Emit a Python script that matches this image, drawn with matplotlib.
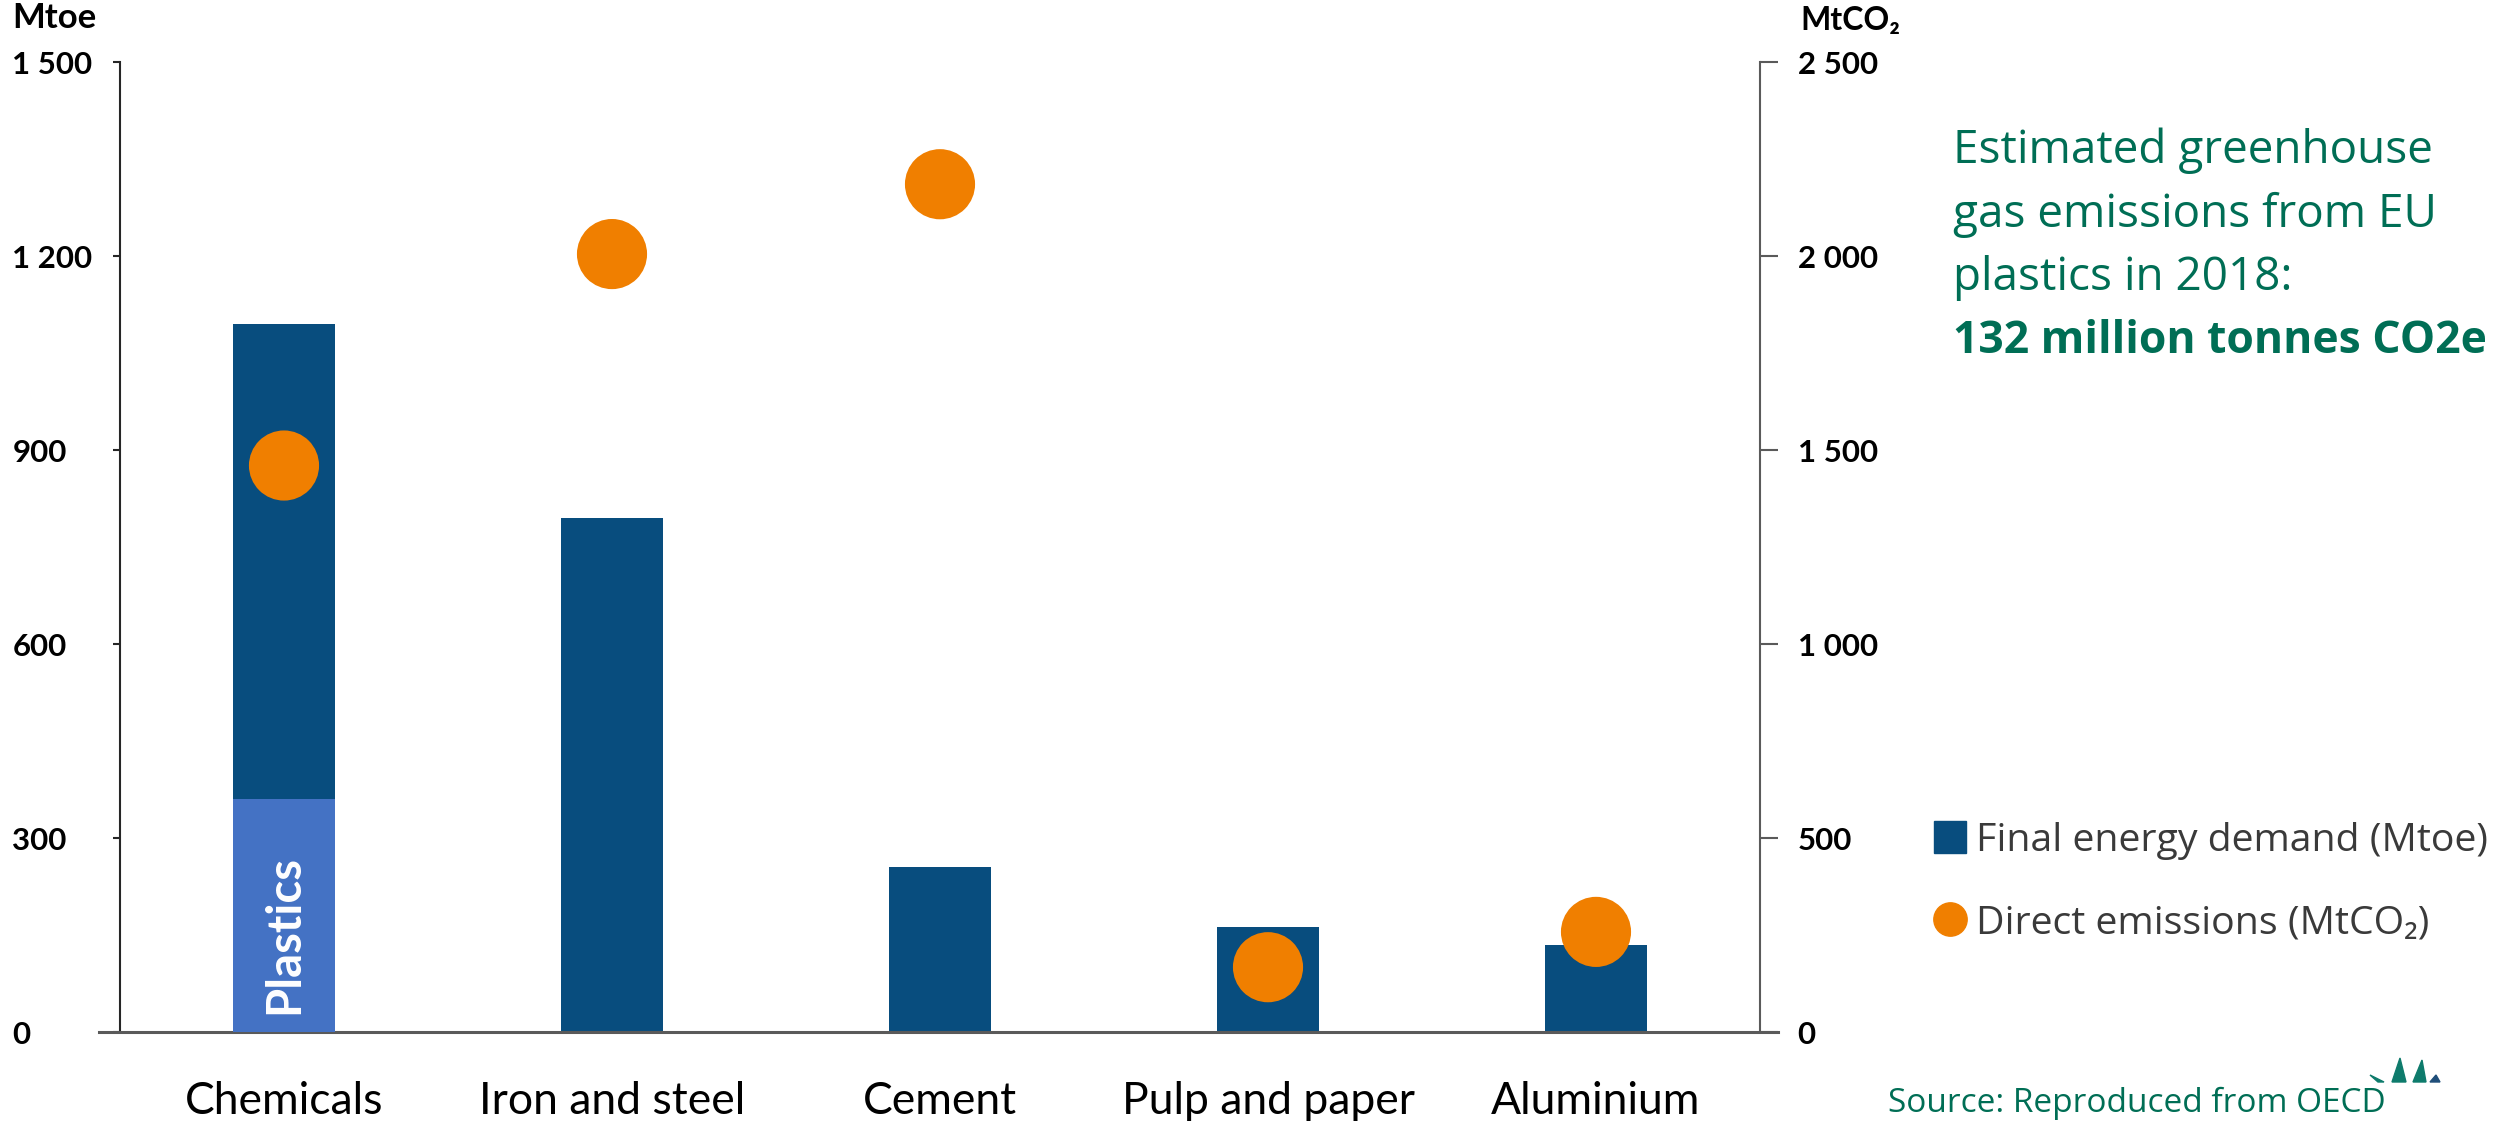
import matplotlib
matplotlib.use("Agg")
import matplotlib.pyplot as plt
from matplotlib.lines import Line2D
from matplotlib.patches import Polygon

# ---------------- data ----------------
categories = ["Chemicals", "Iron and steel", "Cement", "Pulp and paper", "Aluminium"]
energy_mtoe = [1095, 795, 255, 162, 135]          # Final energy demand (Mtoe)
plastics_mtoe = 360                               # Plastics share of chemicals
emissions_mtco2 = [1460, 2005, 2185, 167, 258]     # Direct emissions (MtCO2)
left_ticks = [0, 300, 600, 900, 1200, 1500]
left_ticklabels = ["0", "300", "600", "900", "1 200", "1 500"]
right_ticks = [0, 500, 1000, 1500, 2000, 2500]
right_ticklabels = ["0", "500", "1 000", "1 500", "2 000", "2 500"]

# ---------------- style ----------------
W, H = 2494, 1121
DARK = "#084D7E"
LIGHT = "#4472C4"
ORANGE = "#F07F00"
GREEN = "#006E55"
LEGTXT = "#3A3A3A"

fig = plt.figure(figsize=(W / 100, H / 100), dpi=100)
ax = fig.add_axes([120 / W, 1 - 1032 / H, (1760 - 120) / W, (1032 - 62) / H])
ax2 = ax.twinx()

x = list(range(len(categories)))
bw = 0.314
ax.bar(x, energy_mtoe, width=bw, color=DARK, zorder=2)
ax.bar([0], [plastics_mtoe], width=bw, color=LIGHT, zorder=3)
ax.text(0, 150, "Plastics", rotation=90, color="white", ha="center", va="center",
        fontsize=34, fontweight="bold", family="Lato", zorder=4)

ax2.scatter(x, emissions_mtco2, s=50.5 ** 2, color=ORANGE, edgecolors="none", zorder=5)

ax.set_xlim(-0.5, 4.5)
ax.set_ylim(0, 1500)
ax2.set_ylim(0, 2500)

# spines
for s in ["top", "right"]:
    ax.spines[s].set_visible(False)
for s in ["top", "left", "bottom"]:
    ax2.spines[s].set_visible(False)
ax.spines["left"].set_color("#262626")
ax.spines["left"].set_linewidth(1.5)
ax.spines["bottom"].set_color("#5A5A5A")
ax.spines["bottom"].set_linewidth(2.2)
ax.spines["bottom"].set_bounds(-0.564, 4.555)
ax2.spines["right"].set_color("#5A5A5A")
ax2.spines["right"].set_linewidth(1.5)

# x ticks
ax.set_xticks(x)
ax.set_xticklabels(categories, fontsize=32, family="Lato", color="black")
ax.tick_params(axis="x", length=0, pad=35)

# left y ticks
ax.set_yticks(left_ticks)
ax.set_yticklabels(left_ticklabels, fontsize=22.5, family="Lato", fontweight="bold")
ax.tick_params(axis="y", length=5, width=1.5, color="#262626", pad=72.5)
for lab in ax.get_yticklabels():
    lab.set_ha("left")

# right y ticks
ax2.set_yticks(right_ticks)
ax2.set_yticklabels(right_ticklabels, fontsize=22.5, family="Lato", fontweight="bold")
ax2.tick_params(axis="y", length=13, width=1.5, color="#5A5A5A", pad=14)

# axis unit labels
fig.text(12 / W, 1 - 28 / H, "Mtoe", fontsize=25, fontweight="bold", family="Lato",
         ha="left", va="baseline")
fig.text(1800 / W, 1 - 30 / H, "MtCO₂", fontsize=23, fontweight="bold",
         family=["Lato", "Noto Sans"], ha="left", va="baseline")

# green annotation
lines = ["Estimated greenhouse", "gas emissions from EU", "plastics in 2018:"]
ys = [163, 227, 290]
for t, yy in zip(lines, ys):
    fig.text(1953 / W, 1 - yy / H, t, fontsize=33, family="Open Sans", color=GREEN,
             ha="left", va="baseline")
fig.text(1953 / W, 1 - 353 / H, "132 million tonnes CO2e", fontsize=32,
         family="Open Sans", fontweight="bold", color=GREEN, ha="left", va="baseline")

# legend
handles = [
    Line2D([], [], ls="", marker="s", markersize=23.5, color=DARK),
    Line2D([], [], ls="", marker="o", markersize=24, color=ORANGE),
]
labels = ["Final energy demand (Mtoe)", "Direct emissions (MtCO₂)"]
fig.legend(handles, labels, loc="center left", bbox_to_anchor=(1931 / W, 1 - 882 / H),
           frameon=False, borderaxespad=0, borderpad=0, handlelength=0.95,
           handletextpad=0.2, labelspacing=1.12,
           prop={"family": ["Open Sans", "Noto Sans"], "size": 28.3}, labelcolor=LEGTXT)

# source
fig.text(1888 / W, 1 - 1112 / H, "Source: Reproduced from OECD", fontsize=24,
         family="Open Sans", color=GREEN, ha="left", va="baseline")

# small logo fragment
def px(pts):
    return [(a / W, 1 - b / H) for a, b in pts]

logo = [
    (px([(2370, 1075), (2384, 1082), (2378, 1082)]), "#0E7B6C"),
    (px([(2392, 1082), (2400, 1058), (2406, 1082)]), "#0E7B6C"),
    (px([(2413, 1082), (2422, 1060), (2426, 1082)]), "#0E7B6C"),
    (px([(2430, 1082), (2436, 1075), (2440, 1082)]), "#1F4E79"),
]
for pts, c in logo:
    fig.patches.append(Polygon(pts, closed=True, color=c, transform=fig.transFigure, figure=fig))

fig.savefig("out.png", dpi=100)
